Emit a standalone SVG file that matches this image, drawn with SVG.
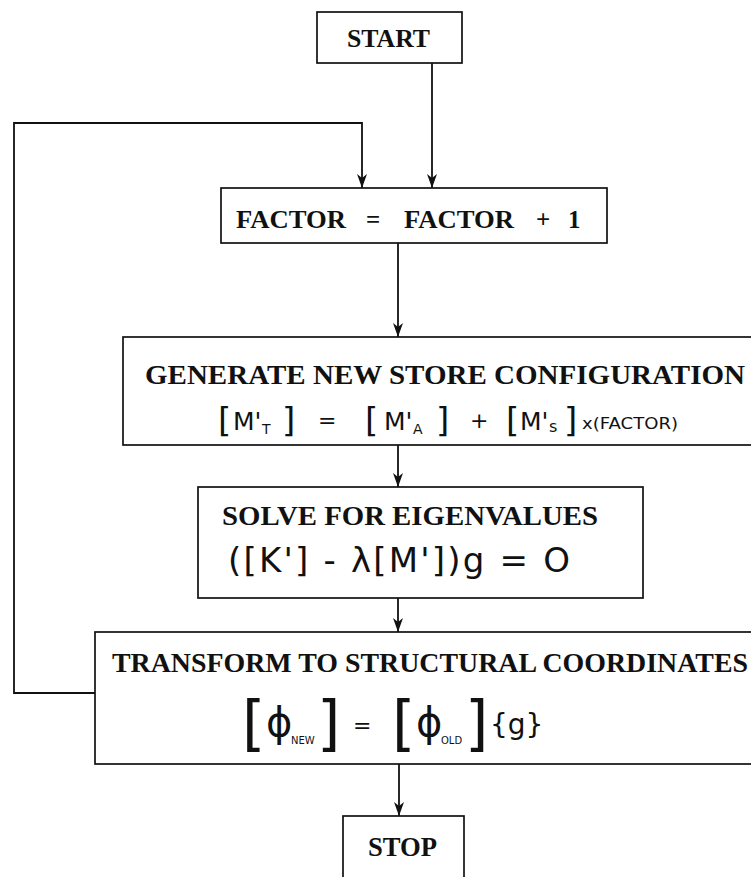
<svg xmlns="http://www.w3.org/2000/svg" width="751" height="877" viewBox="0 0 751 877">
<style>
.box{fill:none;stroke:#111;stroke-width:1.7}
.ln{fill:none;stroke:#111;stroke-width:1.8}
.tb{font-family:"Liberation Serif",serif;font-weight:bold;fill:#111}
.hw{font-family:"DejaVu Sans","Liberation Sans",sans-serif;font-weight:normal;fill:#111}
</style>
<defs>
<marker id="ar" viewBox="0 -6 15 12" refX="14" refY="0" markerWidth="15" markerHeight="12" markerUnits="userSpaceOnUse" orient="auto">
<path d="M0,-5 L14,0 L0,5 L4,0 Z" fill="#111"/>
</marker>
</defs>
<rect width="751" height="877" fill="#fff"/>
<g id="connectors">
<line class="ln" x1="432" y1="63" x2="432" y2="188" marker-end="url(#ar)"/>
<polyline class="ln" points="95,693 14,693 14,123 362,123 362,188" marker-end="url(#ar)"/>
<line class="ln" x1="398" y1="243" x2="398" y2="337" marker-end="url(#ar)"/>
<line class="ln" x1="398" y1="445" x2="398" y2="487" marker-end="url(#ar)"/>
<line class="ln" x1="398" y1="598" x2="398" y2="632" marker-end="url(#ar)"/>
<line class="ln" x1="399" y1="764" x2="399" y2="816" marker-end="url(#ar)"/>
</g>
<g id="start">
<rect class="box" x="317" y="12" width="145" height="51"/>
<text class="tb" x="347" y="47" font-size="25" textLength="83" lengthAdjust="spacingAndGlyphs">START</text>
</g>
<g id="factor">
<rect class="box" x="221" y="188" width="386" height="55"/>
<text class="tb" x="236" y="228" font-size="25" textLength="110" lengthAdjust="spacingAndGlyphs">FACTOR</text>
<text class="tb" x="366" y="228" font-size="25">=</text>
<text class="tb" x="404" y="228" font-size="25" textLength="110" lengthAdjust="spacingAndGlyphs">FACTOR</text>
<text class="tb" x="536" y="228" font-size="25">+</text>
<text class="tb" x="568" y="228" font-size="25">1</text>
</g>
<g id="generate">
<rect class="box" x="123" y="337" width="640" height="108"/>
<text class="tb" x="145" y="384" font-size="28" textLength="600" lengthAdjust="spacingAndGlyphs">GENERATE NEW STORE CONFIGURATION</text>
<text class="hw" x="218" y="432" font-size="34">[</text>
<text class="hw" x="233" y="430" font-size="25">M'</text>
<text class="hw" x="262" y="434" font-size="14">T</text>
<text class="hw" x="282" y="432" font-size="34">]</text>
<text class="hw" x="318" y="428" font-size="22">=</text>
<text class="hw" x="365" y="432" font-size="34">[</text>
<text class="hw" x="384" y="430" font-size="25">M'</text>
<text class="hw" x="413" y="434" font-size="14">A</text>
<text class="hw" x="436" y="432" font-size="34">]</text>
<text class="hw" x="470" y="428" font-size="22">+</text>
<text class="hw" x="506" y="432" font-size="34">[</text>
<text class="hw" x="520" y="430" font-size="25">M'</text>
<text class="hw" x="549" y="432" font-size="16">s</text>
<text class="hw" x="564" y="432" font-size="34">]</text>
<text class="hw" x="582" y="429" font-size="16" textLength="96" lengthAdjust="spacingAndGlyphs">x(FACTOR)</text>
</g>
<g id="solve">
<rect class="box" x="198" y="487" width="445" height="111"/>
<text class="tb" x="222" y="525" font-size="28" textLength="376" lengthAdjust="spacingAndGlyphs">SOLVE FOR EIGENVALUES</text>
<text class="hw" x="228" y="572" font-size="34" textLength="342" lengthAdjust="spacing">([K'] - λ[M'])g = O</text>
</g>
<g id="transform">
<rect class="box" x="95" y="632" width="670" height="132"/>
<text class="tb" x="112" y="672" font-size="27" textLength="636" lengthAdjust="spacingAndGlyphs">TRANSFORM TO STRUCTURAL COORDINATES</text>
<text class="hw" x="242" y="744" font-size="60">[</text>
<text class="hw" x="266" y="736" font-size="40">ϕ</text>
<text class="hw" x="291" y="744" font-size="10">NEW</text>
<text class="hw" x="317" y="744" font-size="60">]</text>
<text class="hw" x="353" y="733" font-size="22">=</text>
<text class="hw" x="392" y="744" font-size="60">[</text>
<text class="hw" x="416" y="736" font-size="40">ϕ</text>
<text class="hw" x="441" y="744" font-size="10">OLD</text>
<text class="hw" x="465" y="744" font-size="60">]</text>
<text class="hw" x="490" y="734" font-size="28">{g}</text>
</g>
<g id="stop">
<rect class="box" x="343" y="816" width="121" height="80"/>
<text class="tb" x="368" y="856" font-size="27" textLength="69" lengthAdjust="spacingAndGlyphs">STOP</text>
</g>
</svg>
